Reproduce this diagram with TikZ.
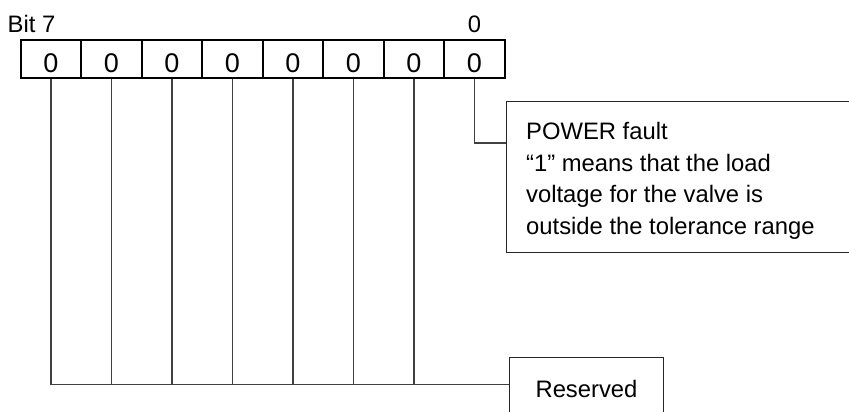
\documentclass[tikz,border=0pt]{standalone}
\usepackage{fontspec}
\setmainfont{Liberation Sans}
\begin{document}
\begin{tikzpicture}[x=1pt,y=-1pt,
  every node/.style={font=\fontsize{23.8}{31.7}\selectfont},
  cell/.style={draw=black,line width=1.8pt,minimum width=60.5pt,minimum height=38.5pt,inner sep=0pt,
    font=\fontsize{27}{32}\selectfont,text height=26.3pt,text depth=0pt},
  infobox/.style={draw=black!85,line width=1pt,inner sep=0pt},
  conn/.style={draw=black!75,line width=1.3pt},
  lbl/.style={inner sep=0pt}
]
\useasboundingbox (0,0) rectangle (849,412);
% register cells
\foreach \i/\n in {0/7,1/6,2/5,3/4,4/3,5/2,6/1,7/0}{
  \node[cell] (b\n) at ({20.7+30.25+\i*60.5},59) {0};
}
% top labels
\node[lbl,anchor=base west] (bitseven) at (7.5,32.5) {Bit 7};
\node[lbl,anchor=base] (bitzero) at (b0.center |- 0,33) {0};
% POWER fault box
\node[infobox,anchor=north west,minimum width=346pt,minimum height=151pt] (power) at (506,101) {};
\node[lbl,anchor=north west,align=left] (powertxt) at (526,122) {POWER fault\\“1” means that the load\\voltage for the valve is\\outside the tolerance range};
% Reserved box
\node[infobox,anchor=north west,minimum width=154pt,minimum height=62pt] (reserved) at (509,357) {Reserved};
\coordinate (bus) at ([yshift=4pt]reserved.west);
% connectors
\draw[conn] (b0.south) |- ([yshift=-42pt]power.north west);
\draw[conn] (b7.south) |- (bus);
\foreach \n in {6,5,4,3,2,1}{
  \draw[conn] (b\n.south) -- (b\n.south |- bus);
}
\end{tikzpicture}
\end{document}
